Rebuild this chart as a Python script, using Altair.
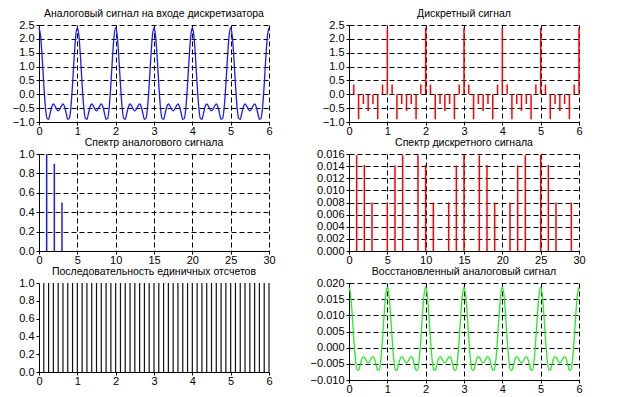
import altair as alt
import pandas as pd

FONT = "Liberation Sans"

# ---- data ----
# analog signal, one period read every 1/24 of a unit (signal repeats with period 1)
analog_period = [2.40, 2.10, 1.32, 0.35, -0.45, -0.87, -0.90, -0.68, -0.45, -0.35, -0.42, -0.54,
                 -0.60, -0.54, -0.42, -0.35, -0.45, -0.68, -0.90, -0.87, -0.45, 0.35, 1.32, 2.10]
analog_steps = 24
n_periods = 6

# discrete signal samples at t = k/8, k = 1..48
sample_rate = 8
discrete_values = [
    0.35, -0.90, -0.35, -0.60, -0.35, -0.90, 0.35, 2.40,
    0.35, -0.90, -0.35, -0.60, -0.35, -0.90, 0.35, 2.40,
    0.35, -0.90, -0.35, -0.60, -0.35, -0.90, 0.35, 2.40,
    0.35, -0.90, -0.35, -0.60, -0.35, -0.90, 0.35, 2.40,
    0.35, -0.90, -0.35, -0.60, -0.35, -0.90, 0.35, 2.40,
    0.35, -0.90, -0.35, -0.60, -0.35, -0.90, 0.35, 2.40,
]

# spectrum of analog signal
analog_freq = [1, 2, 3]
analog_amp = [1.0, 0.9, 0.5]

# spectrum of discrete signal
disc_freq = [1, 2, 3, 5, 6, 7, 9, 10, 11, 13, 14, 15, 17, 18, 19, 21, 22, 23, 25, 26, 27, 29]
disc_amp = [0.0158, 0.0142, 0.0080, 0.0080, 0.0141, 0.0158, 0.0158, 0.0142, 0.0080, 0.0080, 0.0141,
            0.0159, 0.0158, 0.0142, 0.0080, 0.0080, 0.0141, 0.0158, 0.0159, 0.0142, 0.0080, 0.0080]

# unit sample sequence at t = k/8, k = 1..48
unit_values = [1.0] * 48

# reconstructed signal, one period read every 1/24 of a unit
recon_period = [0.0187, 0.0164, 0.0103, 0.0028, -0.0035, -0.0068, -0.0070, -0.0053, -0.0035, -0.0028,
                -0.0032, -0.0042, -0.0047, -0.0042, -0.0032, -0.0028, -0.0035, -0.0053, -0.0070,
                -0.0068, -0.0035, 0.0028, 0.0103, 0.0164]

titles = [
    "Аналоговый сигнал на входе дискретизатора",
    "Дискретный сигнал",
    "Спектр аналогового сигнала",
    "Спектр дискретного сигнала",
    "Последовательность  единичных отсчетов",
    "Восстановленный аналоговый сигнал",
]

t_ticks = [0, 1, 2, 3, 4, 5, 6]
f_ticks = [0, 5, 10, 15, 20, 25, 30]
sig_ticks = [-1.0, -0.5, 0.0, 0.5, 1.0, 1.5, 2.0, 2.5]
unit_ticks = [0.0, 0.2, 0.4, 0.6, 0.8, 1.0]
dspec_ticks = [0.0, 0.002, 0.004, 0.006, 0.008, 0.010, 0.012, 0.014, 0.016]
recon_ticks = [-0.010, -0.005, 0.0, 0.005, 0.010, 0.015, 0.020]

# ---- tables ----
n_pts = analog_steps * n_periods + 1
analog_df = pd.DataFrame({"t": [k / analog_steps for k in range(n_pts)],
                          "v": [analog_period[k % analog_steps] for k in range(n_pts)]})
recon_df = pd.DataFrame({"t": [k / analog_steps for k in range(n_pts)],
                         "v": [recon_period[k % analog_steps] for k in range(n_pts)]})
disc_df = pd.DataFrame({"t": [(k + 1) / sample_rate for k in range(len(discrete_values))],
                        "v": discrete_values, "b": 0.0})
unit_df = pd.DataFrame({"t": [(k + 1) / sample_rate for k in range(len(unit_values))],
                        "v": unit_values, "b": 0.0})
aspec_df = pd.DataFrame({"f": analog_freq, "v": analog_amp, "b": 0.0})
dspec_df = pd.DataFrame({"f": disc_freq, "v": disc_amp, "b": 0.0})

W, H = 230, 97


def xaxis(values, grid=True):
    return alt.Axis(values=values, format="d", grid=grid, gridColor="black", gridDash=[5, 3],
                    gridOpacity=1, gridWidth=1, domainColor="black", tickColor="black",
                    tickSize=3, labelPadding=0, labelFont=FONT, labelFontSize=11,
                    labelColor="black", labelFlush=False, title=None)


def yaxis(values, fmt, grid=True):
    return alt.Axis(values=values, format=fmt, grid=grid, gridColor="black", gridDash=[5, 3],
                    gridOpacity=1, gridWidth=1, domainColor="black", tickColor="black",
                    tickSize=3, labelPadding=2, labelFont=FONT, labelFontSize=11,
                    labelColor="black", title=None)


def xs(field, dom, ticks, grid=True):
    return alt.X(f"{field}:Q", scale=alt.Scale(domain=dom, nice=False, zero=False),
                 axis=xaxis(ticks, grid))


def ys(dom, ticks, fmt, grid=True):
    return alt.Y("v:Q", scale=alt.Scale(domain=dom, nice=False, zero=False),
                 axis=yaxis(ticks, fmt, grid))


def ttl(text):
    return alt.TitleParams(text=text, frame="group", anchor="middle", offset=0)


p1 = alt.Chart(analog_df).mark_line(color="#1a1aff", strokeWidth=1.3, interpolate="monotone").encode(
    x=xs("t", [0, 6], t_ticks), y=ys([-1, 2.5], sig_ticks, ".1f")
).properties(width=W, height=H, title=ttl(titles[0]))

p2 = alt.Chart(disc_df).mark_rule(color="#ff0000", strokeWidth=1.5).encode(
    x=xs("t", [0, 6], t_ticks), y=ys([-1, 2.5], sig_ticks, ".1f"), y2="b:Q"
).properties(width=W, height=H, title=ttl(titles[1]))

p3 = alt.Chart(aspec_df).mark_rule(color="#1a1aff", strokeWidth=1.5).encode(
    x=xs("f", [0, 30], f_ticks), y=ys([0, 1], unit_ticks, ".1f"), y2="b:Q"
).properties(width=W, height=H, title=ttl(titles[2]))

p4 = alt.Chart(dspec_df).mark_rule(color="#ff0000", strokeWidth=1.5).encode(
    x=xs("f", [0, 30], f_ticks), y=ys([0, 0.016], dspec_ticks, ".3f"), y2="b:Q"
).properties(width=W, height=H, title=ttl(titles[3]))

p5 = alt.Chart(unit_df).mark_rule(color="#111111", strokeWidth=1.2).encode(
    x=xs("t", [0, 6], t_ticks, grid=False), y=ys([0, 1], unit_ticks, ".1f", grid=False), y2="b:Q"
).properties(width=W, height=89, title=ttl(titles[4]))

p6 = alt.Chart(recon_df).mark_line(color="#22ee22", strokeWidth=1.3, interpolate="monotone").encode(
    x=xs("t", [0, 6], t_ticks), y=ys([-0.01, 0.02], recon_ticks, ".3f")
).properties(width=W, height=H, title=ttl(titles[5]))

chart = alt.concat(
    p1, p2, p3, p4, p5, p6, columns=2, spacing={"row": 32, "column": 80}, bounds="flush",
    padding={"left": 4, "top": 0, "right": 0, "bottom": 0},
).configure_view(stroke=None).configure_title(
    font=FONT, fontSize=10.5, fontWeight="normal", color="black"
)

chart.save("out.html", embed_options={"renderer": "svg", "actions": False})
